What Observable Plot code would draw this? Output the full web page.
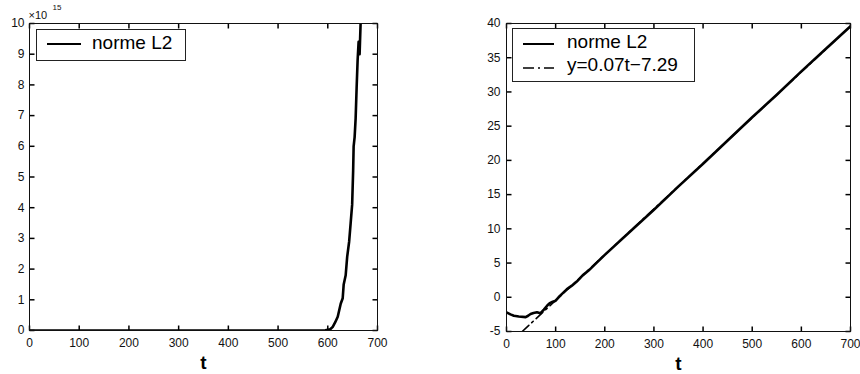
<!DOCTYPE html>
<html>
<head>
<meta charset="utf-8">
<script src="https://cdn.jsdelivr.net/npm/d3@7"></script>
<script src="https://cdn.jsdelivr.net/npm/@observablehq/plot@0.6"></script>
<style>
  html, body { margin: 0; padding: 0; background: white; }
  #wrap { position: relative; width: 860px; height: 374px; overflow: hidden; background: white; font-family: "Liberation Sans", Arial, sans-serif; }
  .panel { position: absolute; top: 0; }
  .legend { position: absolute; background: white; border: 1px solid #222; box-sizing: border-box; }
  .legend svg { position: absolute; left: 0; top: 0; overflow: visible; }
  .legend span { position: absolute; font-size: 19px; line-height: 1; white-space: nowrap; color: #000; }
</style>
</head>
<body>
<div id="wrap">
  <div id="left" class="panel" style="left:0px"></div>
  <div id="right" class="panel" style="left:470px"></div>
</div>
<script>
// ---- Data ----
// Left panel: L2 norm (in units of 1e15) vs t
const tLeft = [0, 100, 200, 300, 400, 500, 585, 595, 605, 610, 615, 620, 626, 630, 632, 636, 639, 643, 646, 649, 651, 652, 654, 656, 658, 660, 662, 664, 666];
const yLeft = [0, 0, 0, 0, 0, 0, 0, 0.01, 0.04, 0.12, 0.27, 0.45, 0.87, 1.05, 1.5, 1.8, 2.4, 2.9, 3.5, 4.1, 5.2, 6.0, 6.3, 6.9, 7.9, 8.8, 9.4, 9.0, 10.0];

// Right panel: log of L2 norm vs t, with linear fit
const tRight = [0, 8, 15, 25, 39, 44, 49, 55, 62, 69, 76, 83, 88, 93, 100, 106, 113, 123, 133, 143, 155, 167, 180, 200, 250, 300, 350, 400, 450, 500, 550, 600, 650, 700];
const yRight = [-2.2, -2.5, -2.7, -2.8, -2.9, -2.7, -2.45, -2.3, -2.2, -2.35, -1.8, -1.2, -0.85, -0.7, -0.5, 0.0, 0.5, 1.2, 1.7, 2.3, 3.2, 3.9, 4.8, 6.2, 9.5, 12.8, 16.2, 19.5, 22.9, 26.3, 29.6, 33.0, 36.3, 39.6];
const fitT = [32, 700];
const fitY = [-5, 39.6];

// Ticks and labels
const xTicks = [0, 100, 200, 300, 400, 500, 600, 700];
const yTicksLeft = [0, 1, 2, 3, 4, 5, 6, 7, 8, 9, 10];
const yTicksRight = [-5, 0, 5, 10, 15, 20, 25, 30, 35, 40];
const xLabel = "t";
const seriesLabel = "norme L2";
const fitLabel = "y=0.07t\u22127.29";
const leftExponent = "15";

// ---- Build ----
const leftData = tLeft.map((t, i) => ({t, y: yLeft[i]}));
const rightData = tRight.map((t, i) => ({t, y: yRight[i]}));
const fitData = fitT.map((t, i) => ({t, y: fitY[i]}));

const baseStyle = {fontFamily: "'Liberation Sans', Arial, sans-serif", fontSize: "12px", color: "#111", background: "white", overflow: "visible"};

// inward box ticks, tick length L pixels converted to data units via the frame size
function boxAxes(xDom, yDom, yTicks, yPad, W, H) {
  const L = 5;
  const dx = L * (xDom[1] - xDom[0]) / W;
  const dy = L * (yDom[1] - yDom[0]) / H;
  const tk = {stroke: "#000", strokeWidth: 1.5};
  const xt = xTicks.map(x => ({x}));
  const yt = yTicks.map(y => ({y}));
  return [
    Plot.axisX({anchor: "bottom", ticks: xTicks, tickSize: 0, tickPadding: 8, tickFormat: d => String(d), label: null}),
    Plot.axisY({anchor: "left", ticks: yTicks, tickSize: 0, tickPadding: yPad, tickFormat: d => String(d), label: null}),
    Plot.link(xt, {x1: "x", x2: "x", y1: () => yDom[0], y2: () => yDom[0] + dy, ...tk}),
    Plot.link(xt, {x1: "x", x2: "x", y1: () => yDom[1] - dy, y2: () => yDom[1], ...tk}),
    Plot.link(yt, {y1: "y", y2: "y", x1: () => xDom[0], x2: () => xDom[0] + dx, ...tk}),
    Plot.link(yt, {y1: "y", y2: "y", x1: () => xDom[1] - dx, x2: () => xDom[1], ...tk}),
    Plot.frame({stroke: "#111", strokeWidth: 1}),
    Plot.text([xLabel], {text: d => d, frameAnchor: "bottom", dy: 32, fontSize: 19, fontWeight: "bold", lineAnchor: "middle", fill: "#000"})
  ];
}

const xDomain = [0, 700];
const yDomLeft = [0, 10];
const yDomRight = [-5, 40];

const left = Plot.plot({
  width: 400, height: 374,
  marginLeft: 29, marginRight: 23, marginTop: 23, marginBottom: 44,
  style: baseStyle,
  x: {domain: xDomain},
  y: {domain: yDomLeft},
  marks: [
    Plot.line(leftData, {x: "t", y: "y", stroke: "#000", strokeWidth: 2.6, clip: true}),
    ...boxAxes(xDomain, yDomLeft, yTicksLeft, 5, 400 - 29 - 23, 374 - 23 - 44),
    Plot.text(["\u00d710"], {text: d => d, frameAnchor: "top-left", textAnchor: "start", lineAnchor: "bottom", dx: -1, dy: -5, fontSize: 11, fill: "#111"}),
    Plot.text([leftExponent], {text: d => d, frameAnchor: "top-left", textAnchor: "start", lineAnchor: "bottom", dx: 23, dy: -14, fontSize: 8, fill: "#111"})
  ]
});
document.getElementById("left").appendChild(left);

const right = Plot.plot({
  width: 390, height: 374,
  marginLeft: 36, marginRight: 10, marginTop: 23, marginBottom: 43,
  style: baseStyle,
  x: {domain: xDomain},
  y: {domain: yDomRight},
  marks: [
    Plot.line(fitData, {x: "t", y: "y", stroke: "#000", strokeWidth: 1.6, strokeDasharray: "9,4,2,4", clip: true}),
    Plot.line(rightData, {x: "t", y: "y", stroke: "#000", strokeWidth: 2.6, clip: true}),
    ...boxAxes(xDomain, yDomRight, yTicksRight, 6, 390 - 36 - 10, 374 - 23 - 43)
  ]
});
document.getElementById("right").appendChild(right);

// ---- Legends ----
function legend(left, top, w, h, entries) {
  const box = document.createElement("div");
  box.className = "legend";
  Object.assign(box.style, {left: left + "px", top: top + "px", width: w + "px", height: h + "px"});
  const ns = "http://www.w3.org/2000/svg";
  const svg = document.createElementNS(ns, "svg");
  svg.setAttribute("width", w); svg.setAttribute("height", h);
  entries.forEach(e => {
    const ln = document.createElementNS(ns, "line");
    ln.setAttribute("x1", e.x1); ln.setAttribute("x2", e.x2);
    ln.setAttribute("y1", e.y); ln.setAttribute("y2", e.y);
    ln.setAttribute("stroke", "#000");
    ln.setAttribute("stroke-width", e.sw);
    if (e.dash) ln.setAttribute("stroke-dasharray", e.dash);
    svg.appendChild(ln);
  });
  box.appendChild(svg);
  entries.forEach(e => {
    const s = document.createElement("span");
    s.textContent = e.label;
    s.style.left = e.tx + "px";
    s.style.top = e.ty + "px";
    box.appendChild(s);
  });
  document.getElementById("wrap").appendChild(box);
}
legend(36, 29, 150, 32, [
  {x1: 10, x2: 44, y: 14, sw: 2, label: seriesLabel, tx: 55, ty: 3}
]);
legend(512, 28, 183, 54, [
  {x1: 10, x2: 41, y: 15, sw: 2, label: seriesLabel, tx: 54, ty: 3},
  {x1: 10, x2: 41, y: 39, sw: 1.6, dash: "11,4,2,4", label: fitLabel, tx: 54, ty: 26}
]);
</script>
</body>
</html>
